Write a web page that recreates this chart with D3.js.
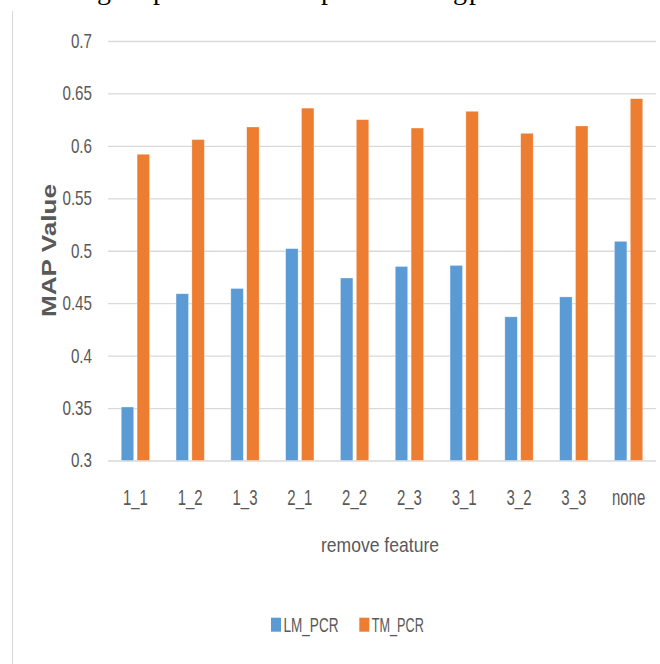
<!DOCTYPE html>
<html>
<head>
<meta charset="utf-8">
<script src="https://cdn.jsdelivr.net/npm/d3@7"></script>
<style>
  html, body { margin: 0; padding: 0; background: #fff; }
  svg { display: block; }
  text { font-family: "Liberation Sans", Arial, sans-serif; fill: #595959; }
</style>
</head>
<body>
<svg id="chart" width="660" height="664"></svg>
<script>
'use strict'

// remove feature groups
const categories = ['1_1', '1_2', '1_3', '2_1', '2_2', '2_3', '3_1', '3_2', '3_3', 'none']
const series = ['LM_PCR', 'TM_PCR']
const lmValues = [0.351, 0.459, 0.464, 0.502, 0.474, 0.485, 0.486, 0.437, 0.456, 0.509]
const tmValues = [0.592, 0.606, 0.618, 0.636, 0.625, 0.617, 0.633, 0.612, 0.619, 0.645]
const yTicks = [0.3, 0.35, 0.4, 0.45, 0.5, 0.55, 0.6, 0.65, 0.7]
const colors = ['#5B9BD5', '#ED7D31']
// bits of the paper's text line just above the figure
const paperGlyphs = [['g', 97], ['p', 153], ['p', 321], ['g', 453], ['p', 469]]

const svg = d3.select('#chart')

// chart-area border on the left
svg.append('line')
	.attr('x1', 12.5).attr('x2', 12.5)
	.attr('y1', 11).attr('y2', 664)
	.attr('stroke', '#d9d9d9')
	.attr('stroke-width', 1)

svg.append('g').selectAll('text')
	.data(paperGlyphs)
	.join('text')
	.attr('x', d => d[1])
	.attr('y', -1)
	.style('font-family', '"Liberation Serif", "Times New Roman", serif')
	.style('font-size', '28px')
	.style('fill', '#000')
	.text(d => d[0])

const plotLeft = 108, plotRight = 656, plotTop = 41, plotBottom = 460.5

const y = d3.scaleLinear().domain([0.3, 0.7]).range([plotBottom, plotTop])
const x0 = d3.scaleBand().domain(categories).range([plotLeft, plotRight])
	.paddingInner(0.4836).paddingOuter(0.2418)
const x1 = d3.scaleBand().domain(series).range([0, x0.bandwidth()])
	.paddingInner(0.2145)

// gridlines + y labels
const yAxis = svg.append('g')
	.attr('transform', 'translate(' + plotLeft + ',0)')
	.call(d3.axisLeft(y).tickValues(yTicks).tickSize(-(plotRight - plotLeft)).tickPadding(16)
		.tickFormat(d3.format('')))
yAxis.select('.domain').remove()
yAxis.selectAll('.tick line')
	.attr('stroke', '#d9d9d9')
	.attr('stroke-width', 1.3)
yAxis.selectAll('.tick text')
	.attr('x', -16 / 0.76)
	.attr('transform', 'scale(0.76,1)')
	.style('font-size', '20px')
	.style('fill', '#595959')

// bars
const rows = categories.map((c, i) => ({cat: c, vals: [lmValues[i], tmValues[i]]}))
svg.append('g').selectAll('g')
	.data(rows)
	.join('g')
	.attr('transform', d => 'translate(' + x0(d.cat) + ',0)')
	.selectAll('rect')
	.data(d => d.vals.map((v, j) => ({name: series[j], v: v, j: j})))
	.join('rect')
	.attr('x', d => x1(d.name))
	.attr('y', d => y(d.v))
	.attr('width', x1.bandwidth())
	.attr('height', d => y(0.3) - y(d.v))
	.attr('fill', d => colors[d.j])
	.attr('stroke', '#fff')
	.attr('stroke-opacity', 0.5)
	.attr('stroke-width', 0.6)

// x labels
const xAxis = svg.append('g')
	.attr('transform', 'translate(0,' + plotBottom + ')')
	.call(d3.axisBottom(x0).tickSize(0).tickPadding(29))
xAxis.select('.domain').remove()
xAxis.selectAll('.tick text')
	.attr('transform', 'scale(0.68,1)')
	.style('font-size', '22px')
	.style('fill', '#595959')

// axis titles
svg.append('text')
	.attr('x', 380)
	.attr('y', 552)
	.attr('text-anchor', 'middle')
	.attr('textLength', 118)
	.attr('lengthAdjust', 'spacingAndGlyphs')
	.style('font-size', '21px')
	.text('remove feature')

svg.append('text')
	.attr('transform', 'translate(56,250.5) rotate(-90)')
	.attr('text-anchor', 'middle')
	.attr('textLength', 133)
	.attr('lengthAdjust', 'spacingAndGlyphs')
	.style('font-size', '21px')
	.style('font-weight', 'bold')
	.text('MAP Value')

// legend
const legendX = [271, 359.3]
const legendW = [55, 52]
const legend = svg.append('g').selectAll('g')
	.data(series)
	.join('g')
	.attr('transform', (d, i) => 'translate(' + legendX[i] + ',0)')
legend.append('rect')
	.attr('x', 0).attr('y', 617.7)
	.attr('width', 10).attr('height', 14)
	.attr('fill', (d, i) => colors[i])
legend.append('text')
	.attr('x', 12.5)
	.attr('y', 631.7)
	.attr('textLength', (d, i) => legendW[i])
	.attr('lengthAdjust', 'spacingAndGlyphs')
	.style('font-size', '21px')
	.text(d => d)
</script>
</body>
</html>
